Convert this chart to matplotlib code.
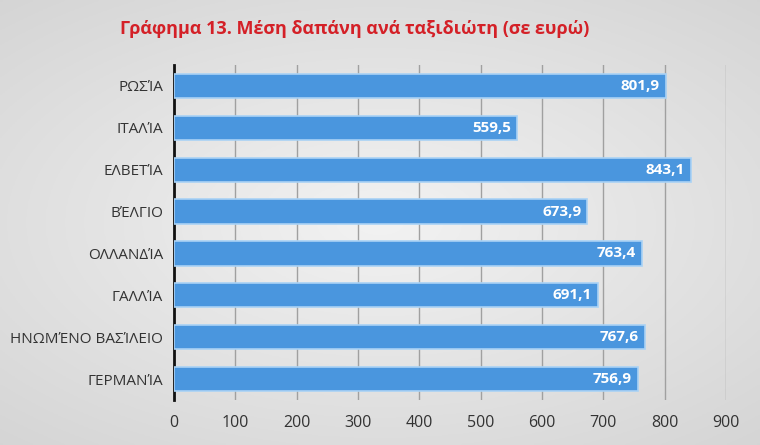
import numpy as np
import matplotlib
matplotlib.use("Agg")
import matplotlib.pyplot as plt

categories = ["ΡΩΣΊΑ", "ΙΤΑΛΊΑ", "ΕΛΒΕΤΊΑ", "ΒΈΛΓΙΟ", "ΟΛΛΑΝΔΊΑ", "ΓΑΛΛΊΑ",
              "ΗΝΩΜΈΝΟ ΒΑΣΊΛΕΙΟ", "ΓΕΡΜΑΝΊΑ"]
values = [801.9, 559.5, 843.1, 673.9, 763.4, 691.1, 767.6, 756.9]
xticks = [0, 100, 200, 300, 400, 500, 600, 700, 800, 900]
title = "Γράφημα 13. Μέση δαπάνη ανά ταξιδιώτη (σε ευρώ)"

plt.rcParams['font.family'] = ['Open Sans', 'DejaVu Sans']

fig = plt.figure(figsize=(7.6, 4.45), dpi=100)

# background gradient
bg = fig.add_axes([0, 0, 1, 1], zorder=-10)
yy, xx = np.mgrid[-1:1:200j, -1:1:300j]
r = np.sqrt(xx**2 * 0.8 + yy**2)
g = 0.95 - 0.12 * np.clip(r, 0, 1.4) / 1.4
img = np.dstack([g, g, g])
bg.imshow(img, aspect='auto', extent=[0, 1, 0, 1])
bg.axis('off')

ax = fig.add_axes([174/760, 1 - 400/445, (726-174)/760, (400-65)/445])
ax.patch.set_alpha(0)

y = np.arange(len(categories))
ax.barh(y, values, height=0.58, color='#4a96de', edgecolor='#a9d2f5',
        linewidth=1.2, zorder=3)
for yi, v in zip(y, values):
    ax.text(v - 10, yi, f"{v:.1f}".replace('.', ','), ha='right', va='center',
            color='white', fontsize=11, fontweight='bold', zorder=4)

ax.set_xlim(0, 900)
ax.set_ylim(len(categories) - 0.5, -0.5)
ax.set_xticks(xticks)
ax.set_xticklabels([str(t) for t in xticks], fontsize=11.5, color='#333333')
ax.set_yticks(y)
ax.set_yticklabels(categories, fontsize=11, color='#333333')
ax.tick_params(axis='both', length=0)
ax.tick_params(axis='x', pad=11)
ax.tick_params(axis='y', pad=8)
ax.xaxis.grid(True, color='#a0a0a0', linewidth=1)
ax.set_axisbelow(True)
for s in ['top', 'right', 'bottom']:
    ax.spines[s].set_visible(False)
ax.spines['left'].set_color('#111111')
ax.spines['left'].set_linewidth(2)

fig.text(355/760, 1 - 29/445, title, ha='center', va='center', color='#d42027',
         fontsize=13, fontweight='bold')

fig.savefig("out.png", dpi=100)
